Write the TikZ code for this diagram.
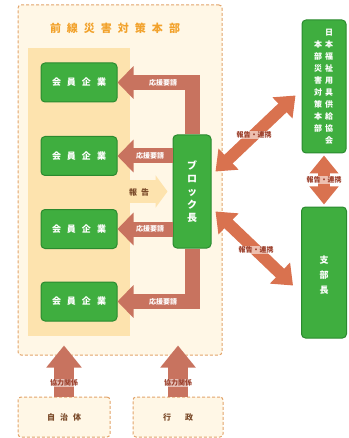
\documentclass[tikz,border=0pt]{standalone}
\usepackage{fontspec}
\setmainfont{Noto Sans CJK JP}
\usetikzlibrary{arrows.meta}

\definecolor{boxgreen}{HTML}{3FAE3F}
\definecolor{boxline}{HTML}{2B8A2F}
\definecolor{cream}{HTML}{FFF7E6}
\definecolor{dashline}{HTML}{E2A46A}
\definecolor{column}{HTML}{FDE3AE}
\definecolor{brick}{HTML}{C8735F}
\definecolor{coral}{HTML}{D9724F}
\definecolor{titleorange}{HTML}{F2A22C}
\definecolor{labeltext}{HTML}{9A3C28}
\definecolor{boxtext}{HTML}{7B4B2A}

\newcommand\jgap[1][6pt]{\hspace{#1}}

\tikzset{
  green box/.style={draw=boxline, fill=boxgreen, line width=1pt, rounded corners=4pt,
    text=white, font=\bfseries\fontsize{9}{11}\selectfont, inner sep=0pt},
  member/.style={green box, minimum width=76pt, minimum height=39pt},
  dashed box/.style={draw=dashline, fill=cream, dash pattern=on 3pt off 2pt,
    line width=1pt, rounded corners=3pt, text=boxtext, font=\bfseries\fontsize{8}{10}\selectfont},
  order/.style={draw=brick, line width=15pt, line join=miter, -{Triangle[width=32pt,length=16pt]}},
  report/.style={draw=column, line width=22pt, -{Triangle[width=32pt,length=12pt]}},
  link/.style={draw=coral, line width=12pt,
    {Triangle[width=28pt,length=18pt]}-{Triangle[width=28pt,length=18pt]}},
  support/.style={draw=brick, line width=20pt, -{Triangle[width=34pt,length=22pt]}},
  tag/.style={font=\bfseries\fontsize{7}{8}\selectfont, text=white, inner sep=0pt},
  note/.style={font=\bfseries\fontsize{7}{8}\selectfont, text=labeltext, inner sep=1pt,
    fill=white, fill opacity=0.55, text opacity=1},
}

\begin{document}
\begin{tikzpicture}[x=1pt,y=-1pt]
\useasboundingbox (0,0) rectangle (348,438);

% front-line headquarters
\node[dashed box, minimum width=204pt, minimum height=350pt] (front) at (120,180) {};
\node[font=\bfseries\fontsize{11}{13}\selectfont, text=titleorange] (title) at (115,28)
  {前\jgap 線\jgap 災\jgap 害\jgap 対\jgap 策\jgap 本\jgap 部};
\node[fill=column, minimum width=102pt, minimum height=288pt, inner sep=0pt] (col) at (79,192) {};

\foreach \y [count=\i] in {82.5,156,229,301.5}
  \node[member] (m\i) at (79,\y) {会\jgap 員\jgap 企\jgap 業};

\node[green box, minimum width=38pt, minimum height=113pt, align=center,
  font=\bfseries\fontsize{10}{13}\selectfont] (chief) at (192,191.5) {ブ\\ロ\\ッ\\ク\\長};

\draw[report] (col.east |- chief.west) -- ([xshift=-5pt]chief.west);
\node[text=boxtext, font=\bfseries\fontsize{8}{10}\selectfont] (rep) at (139,192) {報\jgap[4pt]告};

\draw[order] (chief.north) |- (m1.east);
\draw[order] (chief.west |- m2.east) -- (m2.east);
\draw[order] (chief.west |- m3.east) -- (m3.east);
\draw[order] (chief.south) |- (m4.east);
\node[tag] (t1) at (163,82.5) {応援要請};
\node[tag] (t2) at (150,156) {応援要請};
\node[tag] (t3) at (150,229) {応援要請};
\node[tag] (t4) at (163,301.5) {応援要請};

% association side
\node[green box, minimum width=44pt, minimum height=133pt] (hq) at (324,86.5) {};
\node[text=white, align=center, inner sep=0pt, font=\bfseries\fontsize{8}{12}\selectfont]
  (hqa) at (329,86.5) {日\\本\\福\\祉\\用\\具\\供\\給\\協\\会};
\node[text=white, align=center, inner sep=0pt, font=\bfseries\fontsize{8}{12}\selectfont]
  (hqb) at (318,86.5) {本\\部\\災\\害\\対\\策\\本\\部};
\node[green box, minimum width=45pt, minimum height=131pt] (branch) at (324,272.5) {};
\node[text=white, align=center, inner sep=0pt, font=\bfseries\fontsize{9}{15}\selectfont]
  (br) at (324,275) {支\\部\\長};

\draw[link] ([shift={(4,37)}]chief.north east) -- ([shift={(-6,9)}]hq.west);
\draw[link] ([shift={(4,20)}]chief.east) -- ([shift={(-8,13)}]branch.west);
\draw[link] ([yshift=-2pt]hq.south) -- ([yshift=2pt]branch.north);
\node[note] (n1) at (254,135) {報告・連携};
\node[note] (n2) at (256,250) {報告・連携};
\node[note] (n3) at (324,180) {報告・連携};

% outside partners
\node[dashed box, minimum width=92pt, minimum height=40pt] (city) at (64,417)
  {自\jgap[5pt]治\jgap[5pt]体};
\node[dashed box, minimum width=90pt, minimum height=40pt] (gov) at (178,417)
  {行\jgap[14pt]政};
\draw[support] (city.north) -- ([yshift=10pt]city.north |- front.south);
\draw[support] (gov.north) -- ([yshift=10pt]gov.north |- front.south);
\node[note] (c1) at (64,383) {協力関係};
\node[note] (c2) at (178,383) {協力関係};
\end{tikzpicture}
\end{document}
